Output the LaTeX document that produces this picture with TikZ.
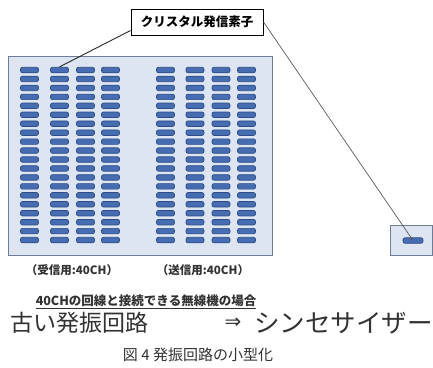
\documentclass[tikz,border=0pt]{standalone}
\usepackage{fontspec}
\setmainfont{Noto Sans CJK JP}
\newfontfamily\symfont{DejaVu Sans}
\usetikzlibrary{arrows.meta,calc}
\definecolor{bgblue}{RGB}{220,229,241}
\definecolor{bgedge}{RGB}{110,125,150}
\definecolor{pillfill}{RGB}{70,108,178}
\definecolor{pilledge}{RGB}{45,76,132}
\definecolor{txtgray}{RGB}{50,50,50}
\begin{document}
\begin{tikzpicture}[x=1pt,y=-1pt,
  pill/.style={draw=pilledge, fill=pillfill, rounded corners=2pt, minimum width=18pt, minimum height=5.5pt, inner sep=0pt, line width=0.7pt},
  board/.style={draw=bgedge, fill=bgblue, line width=0.8pt, inner sep=0pt},
  smalltxt/.style={font=\bfseries\fontsize{11.5}{12}\selectfont, text=txtgray},
  bigtxt/.style={font=\fontsize{23}{25}\selectfont, text=txtgray, inner sep=0pt}]
\useasboundingbox (0,0) rectangle (433,367);
\node[board, minimum width=264pt, minimum height=199pt, anchor=north west] (big) at (8,56) {};
\foreach \c/\x in {1/29.5,2/59.5,3/85.5,4/110.5,5/165.5,6/195,7/221,8/246.5}
  \foreach \r in {1,...,20}
    \node[pill] (p-\r-\c) at (\x, {70+(\r-1)*8.95}) {};
\node[board, minimum width=42pt, minimum height=30pt, anchor=north west] (small) at (390,225) {};
\node[pill, minimum width=20pt] (sp) at (413,240.5) {};
\node[draw, line width=1pt, fill=white, minimum width=132pt, minimum height=26pt, inner sep=0pt,
  font=\bfseries\fontsize{12.5}{13}\selectfont] (lbl) at (197,22) {クリスタル発信素子};
\draw[line width=0.9pt, black!85] ($(lbl.south west)+(0,-5)$) -- (p-1-2.north);
\draw[gray!70!black, line width=0.7pt, -{Stealth[length=4pt,width=3pt]}] (lbl.east) -- (sp.center);
\node[smalltxt] (t1) at (72,270) {（受信用:40CH）};
\node[smalltxt] (t2) at (203,270) {（送信用:40CH）};
\node[smalltxt, font=\bfseries\fontsize{12.5}{13}\selectfont] (t3) at (146,302) {\underline{40CHの回線と接続できる無線機の場合}};
\node[bigtxt, anchor=west] (t4) at (10,323) {古い発振回路};
\node[bigtxt, font=\symfont\fontsize{20}{22}\selectfont] (arr) at (233,323) {⇒};
\node[bigtxt, font=\fontsize{25.5}{27}\selectfont, anchor=west] (t5) at (254,323) {シンセサイザー};
\node[font=\fontsize{15}{16}\selectfont, text=txtgray] (cap) at (198,355) {図 4 発振回路の小型化};
\end{tikzpicture}
\end{document}
